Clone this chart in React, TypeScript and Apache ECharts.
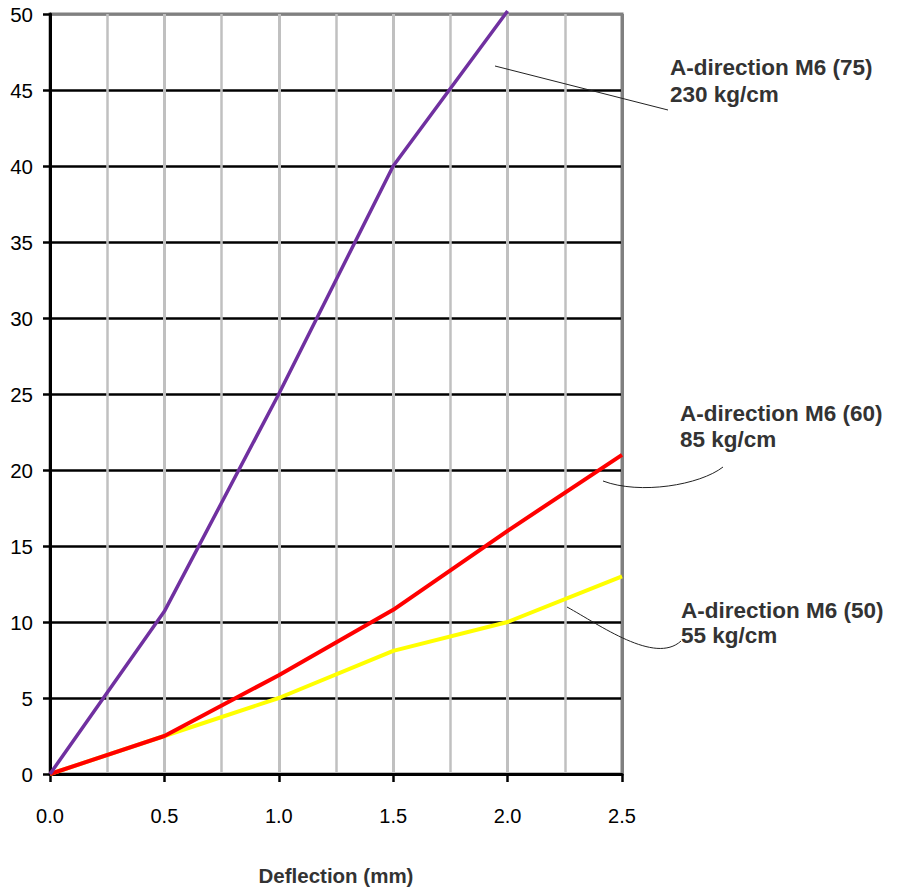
import React, { useEffect, useRef } from "react";
import * as echarts from "echarts";

const xValues = [0, 0.5, 1.0, 1.5, 2.0, 2.5];
const seriesM75 = [0, 10.7, 25, 40, 50.2];
const seriesM60 = [0, 2.5, 6.5, 10.8, 16, 21];
const seriesM50 = [0, 2.5, 5, 8.1, 10, 13];
const labels = [
  { title: "A-direction M6 (75)", sub: "230 kg/cm" },
  { title: "A-direction M6 (60)", sub: "85 kg/cm" },
  { title: "A-direction M6 (50)", sub: "55 kg/cm" },
];

const pairs = (ys: number[]) => ys.map((y, i) => [xValues[i], y]);

export default function App() {
  const ref = useRef<HTMLDivElement>(null);
  useEffect(() => {
    if (!ref.current) return;
    const chart = echarts.init(ref.current, null, { renderer: "svg" });
    const font = "Liberation Sans";
    const textEl = (x: number, y: number, t: string) => ({
      type: "text",
      x,
      y,
      z: 10,
      style: {
        text: t,
        fill: "#333",
        fontFamily: font,
        fontWeight: "bold",
        fontSize: 22.5,
        verticalAlign: "middle",
      },
    });
    const ySplitColors = ["#000", "#000", "#000", "#000", "#000", "#000", "#000", "#000", "#000", "#000", "#808080"];
    const xSplitColors = ["#c0c0c0", "#c0c0c0", "#c0c0c0", "#c0c0c0", "#c0c0c0", "#808080"];
    chart.setOption({
      animation: false,
      grid: {
        left: 50,
        right: 278,
        top: 14,
        bottom: 117,
        containLabel: false,
        outerBoundsMode: "none",
        show: true,
        borderColor: "#808080",
        borderWidth: 3,
      },
      xAxis: {
        type: "value",
        min: 0,
        max: 2.5,
        interval: 0.5,
        name: "Deflection (mm)",
        nameLocation: "middle",
        nameGap: 91,
        nameMoveOverlap: false,
        nameTextStyle: { fontFamily: font, fontWeight: "bold", fontSize: 20.5, color: "#333" },
        axisLine: { show: true, onZero: false, lineStyle: { color: "#000", width: 3 } },
        axisTick: { show: true, length: 8, lineStyle: { color: "#000", width: 2.5 } },
        axisLabel: {
          fontFamily: font,
          fontSize: 20,
          color: "#000",
          margin: 32,
          formatter: (v: number) => v.toFixed(1),
        },
        splitLine: { show: true, lineStyle: { color: xSplitColors, width: 3 } },
        minorTick: { show: false, splitNumber: 2 },
        minorSplitLine: { show: true, lineStyle: { color: "#c0c0c0", width: 2.5 } },
      },
      yAxis: {
        type: "value",
        min: 0,
        max: 50,
        interval: 5,
        axisLine: { show: true, lineStyle: { color: "#000", width: 3 } },
        axisTick: { show: true, length: 7, lineStyle: { color: "#000", width: 2.5 } },
        axisLabel: { fontFamily: font, fontSize: 20.5, color: "#000", margin: 17 },
        splitLine: { show: true, lineStyle: { color: ySplitColors, width: 2.5 } },
      },
      series: [
        {
          type: "line",
          data: pairs(seriesM50),
          showSymbol: false,
          symbol: "none",
          lineStyle: { color: "#ffff00", width: 4 },
          z: 3,
        },
        {
          type: "line",
          data: pairs(seriesM60),
          showSymbol: false,
          symbol: "none",
          lineStyle: { color: "#ff0000", width: 4 },
          z: 4,
        },
        {
          type: "line",
          data: pairs(seriesM75),
          showSymbol: false,
          symbol: "none",
          clip: false,
          lineStyle: { color: "#7030a0", width: 3.5 },
          z: 5,
        },
      ],
      graphic: [
        textEl(670, 67, labels[0].title),
        textEl(670, 94, labels[0].sub),
        textEl(680, 413, labels[1].title),
        textEl(680, 439, labels[1].sub),
        textEl(681, 610, labels[2].title),
        textEl(681, 635, labels[2].sub),
        {
          type: "line",
          shape: { x1: 495, y1: 66, x2: 668, y2: 110 },
          style: { stroke: "#222", lineWidth: 1 },
          z: 10,
        },
        {
          type: "bezierCurve",
          shape: { x1: 603, y1: 481, cpx1: 640, cpy1: 495, cpx2: 700, cpy2: 485, x2: 723, y2: 467 },
          style: { stroke: "#222", lineWidth: 1, fill: "none" },
          z: 10,
        },
        {
          type: "bezierCurve",
          shape: { x1: 567, y1: 607, cpx1: 600, cpy1: 625, cpx2: 655, cpy2: 665, x2: 681, y2: 641 },
          style: { stroke: "#222", lineWidth: 1, fill: "none" },
          z: 10,
        },
      ],
    });
    return () => chart.dispose();
  }, []);
  return (
    <div
      ref={ref}
      style={{ position: "absolute", left: 0, top: 0, width: 900, height: 891 }}
    />
  );
}
